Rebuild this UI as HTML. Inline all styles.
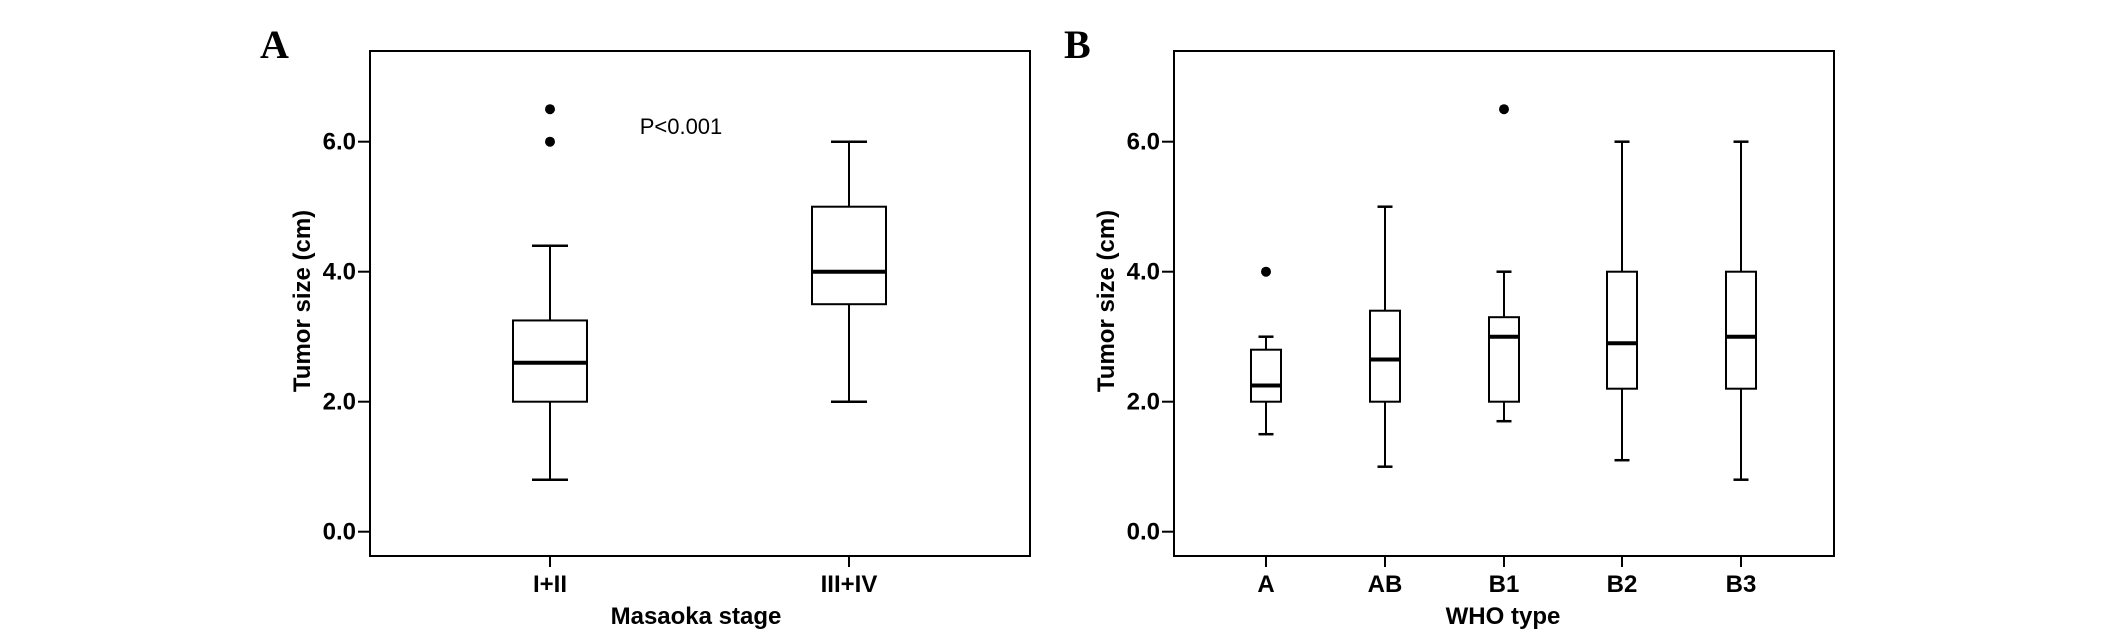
<!DOCTYPE html>
<html><head><meta charset="utf-8"><style>
html,body{margin:0;padding:0;background:#fff;}
svg{display:block;}
text{font-family:"Liberation Sans",Arial,sans-serif;fill:#000;}
.tick{font-size:24px;font-weight:bold;}
.ttl{font-size:24px;font-weight:bold;}
.pl{font-family:"Liberation Serif",serif;font-size:40px;font-weight:bold;}
</style></head><body>
<svg id="c" width="2126" height="640" viewBox="0 0 2126 640"></svg>
<script>
// Panel A data
const catsA = ["I+II","III+IV"];
const lowA = [0.8, 2.0];
const q1A = [2.0, 3.5];
const medA = [2.6, 4.0];
const q3A = [3.25, 5.0];
const highA = [4.4, 6.0];
const outA = [[6.0, 6.5], []];
// Panel B data
const catsB = ["A","AB","B1","B2","B3"];
const lowB = [1.5, 1.0, 1.7, 1.1, 0.8];
const q1B = [2.0, 2.0, 2.0, 2.2, 2.2];
const medB = [2.25, 2.65, 3.0, 2.9, 3.0];
const q3B = [2.8, 3.4, 3.3, 4.0, 4.0];
const highB = [3.0, 5.0, 4.0, 6.0, 6.0];
const outB = [[4.0], [], [6.5], [], []];
const yTicks = [0, 2, 4, 6];
const yTickLabels = ["0.0","2.0","4.0","6.0"];

const NS="http://www.w3.org/2000/svg";
const svg=document.getElementById('c');
function el(tag,attrs,parent){const e=document.createElementNS(NS,tag);for(const k in attrs)e.setAttribute(k,attrs[k]);(parent||svg).appendChild(e);return e;}
const yS = v => 531.7 - 65*v;

function panel(cfg){
  const g=el('g',{});
  
  
  const L=cfg.left,R=cfg.right,T=51,B=556;
  const frame=el('rect',{x:L,y:T,width:R-L,height:B-T,fill:'none',stroke:'#000','stroke-width':2},g);
  
  
  yTicks.forEach((v,i)=>{
    const y=yS(v);
    const tl=el('line',{x1:L-12,x2:L,y1:y,y2:y,stroke:'#000','stroke-width':2},g);
    
    
    const t=el('text',{x:L-14,y:y+8,'text-anchor':'end','class':'tick'},g);
    t.textContent=yTickLabels[i];
    
    
  });
  const yt=el('text',{x:0,y:0,'text-anchor':'middle','class':'ttl',transform:`translate(${L-60},${yS(3.55)}) rotate(-90)`},g);
  yt.textContent='Tumor size (cm)';
  
  
  const xt=el('text',{x:cfg.xTitleX,y:624,'text-anchor':'middle','class':'ttl'},g);
  xt.textContent=cfg.xTitle;
  
  
  cfg.cats.forEach((c,i)=>{
    const x=cfg.xs[i];
    const tk=el('line',{x1:x,x2:x,y1:B,y2:B+11,stroke:'#000','stroke-width':2},g);
    
    
    const tl=el('text',{x:x,y:592,'text-anchor':'middle','class':'tick'},g);
    tl.textContent=c;
    
    
    const bg=el('g',{},g);
    
    
    const bw=cfg.bw/2, cw=cfg.cw/2;
    el('line',{x1:x,x2:x,y1:yS(cfg.low[i]),y2:yS(cfg.q1[i]),stroke:'#000','stroke-width':2},bg);
    el('line',{x1:x,x2:x,y1:yS(cfg.q3[i]),y2:yS(cfg.high[i]),stroke:'#000','stroke-width':2},bg);
    el('line',{x1:x-cw,x2:x+cw,y1:yS(cfg.low[i]),y2:yS(cfg.low[i]),stroke:'#000','stroke-width':2.5},bg);
    el('line',{x1:x-cw,x2:x+cw,y1:yS(cfg.high[i]),y2:yS(cfg.high[i]),stroke:'#000','stroke-width':2.5},bg);
    el('rect',{x:x-bw,y:yS(cfg.q3[i]),width:2*bw,height:yS(cfg.q1[i])-yS(cfg.q3[i]),fill:'#fff',stroke:'#000','stroke-width':2},bg);
    el('line',{x1:x-bw,x2:x+bw,y1:yS(cfg.med[i]),y2:yS(cfg.med[i]),stroke:'#000','stroke-width':4},bg);
    cfg.out[i].forEach(v=>{
      const d=el('circle',{cx:x,cy:yS(v),r:5,fill:'#000'},g);
      
      
    });
  });
  const pl=el('text',{x:cfg.plX,y:58,'class':'pl'},g);
  pl.textContent=cfg.label;
  
  
  return g;
}
panel({name:'panel-a',left:370,right:1030,cats:catsA,xs:[550,849],low:lowA,q1:q1A,med:medA,q3:q3A,high:highA,out:outA,bw:74,cw:36,xTitle:'Masaoka stage',xTitleX:696,label:'A',plX:260});
panel({name:'panel-b',left:1174,right:1834,cats:catsB,xs:[1266,1385,1504,1622,1741],low:lowB,q1:q1B,med:medB,q3:q3B,high:highB,out:outB,bw:30,cw:15,xTitle:'WHO type',xTitleX:1503,label:'B',plX:1064});
const p=el('text',{x:681,y:134,'text-anchor':'middle','font-size':'22'});
p.textContent='P<0.001';


</script>
</body></html>
